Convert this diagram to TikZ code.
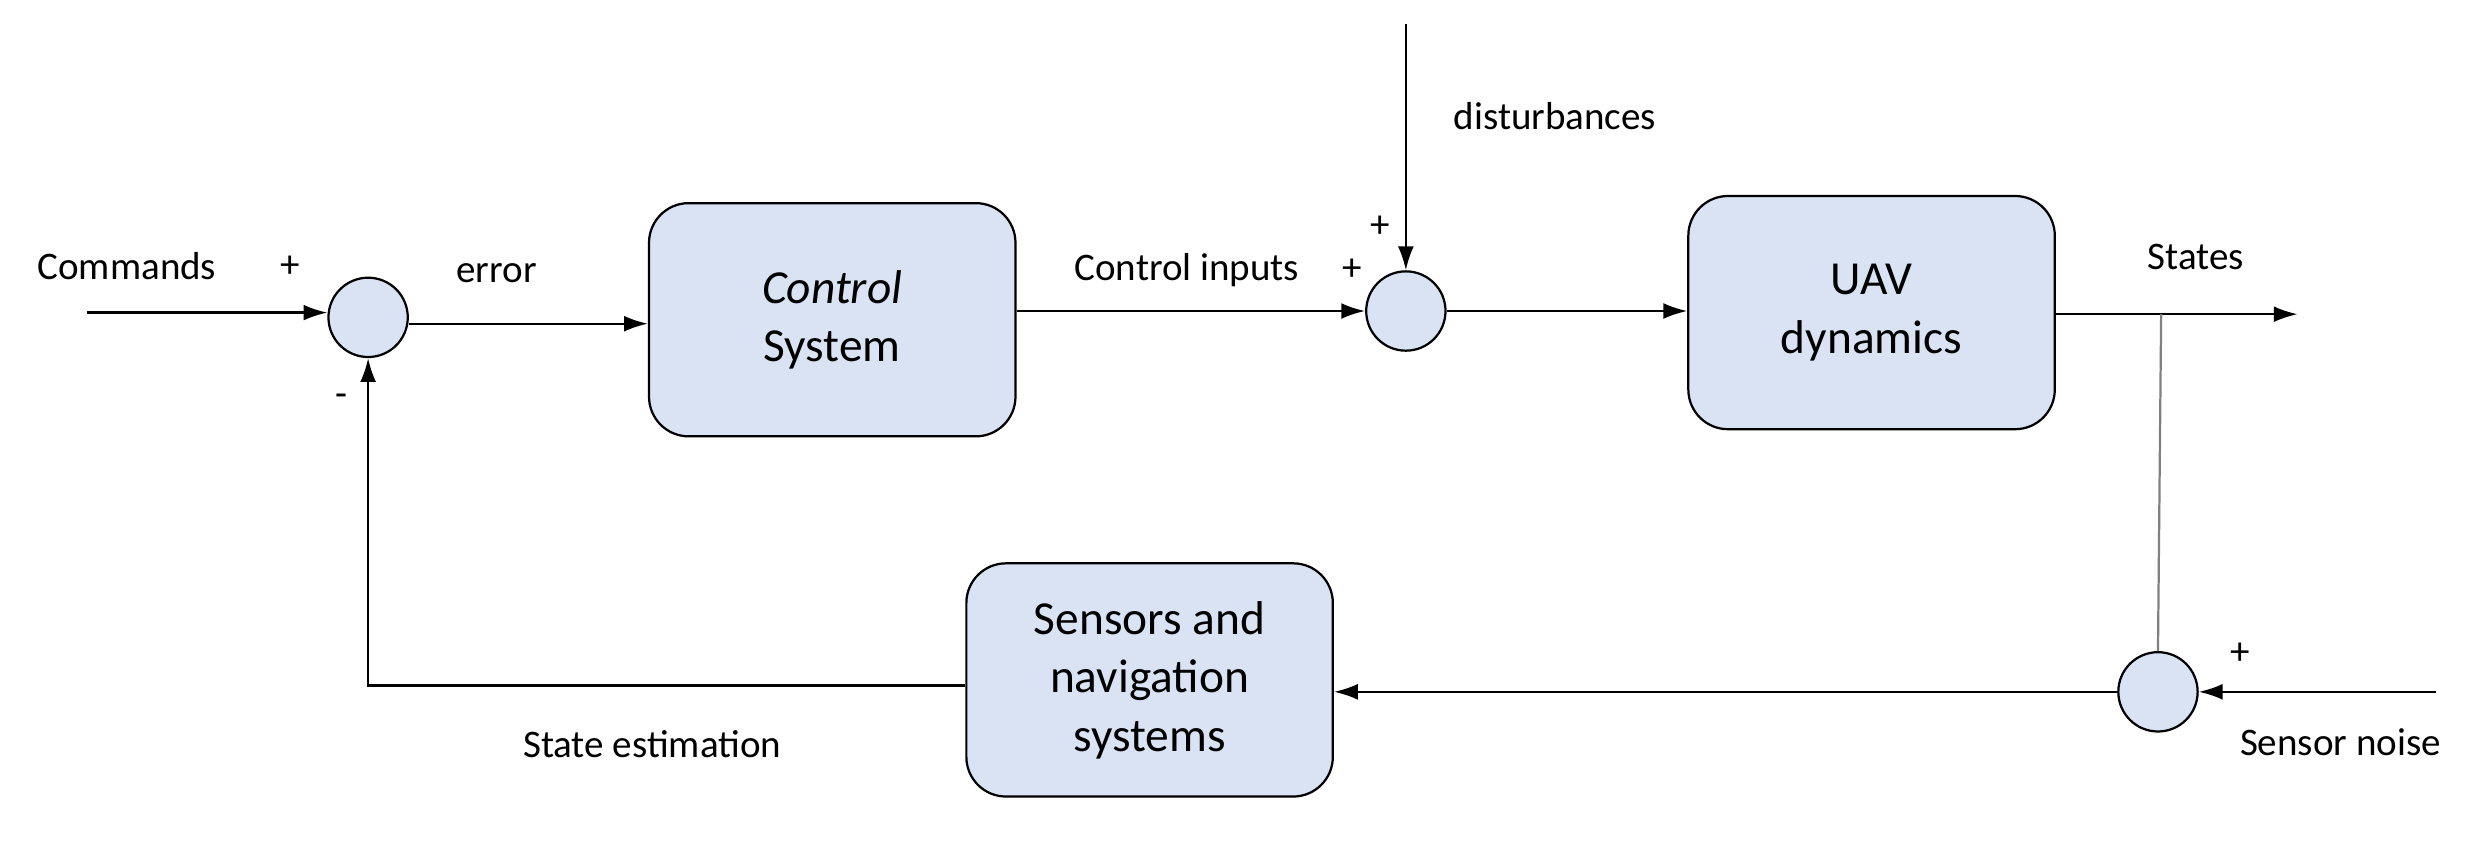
\documentclass[tikz,border=0pt]{standalone}
\usepackage{fontspec}
\setmainfont{Carlito}
\usetikzlibrary{arrows.meta}
\definecolor{BlockBlue}{RGB}{218,227,243}

\begin{document}
\begin{tikzpicture}[x=0.02cm, y=-0.02cm,
  block/.style={draw=black, fill=BlockBlue, rounded corners=0.5cm, line width=0.8pt,
    minimum width=4.62cm, minimum height=2.94cm, align=center, font=\fontsize{17}{21}\selectfont},
  sum/.style={draw=black, fill=BlockBlue, circle, minimum size=1cm, inner sep=0pt, line width=0.8pt},
  lbl/.style={font=\fontsize{14}{17}\selectfont, inner sep=0pt},
  sig/.style={-{Latex[length=3mm,width=2mm]}, line width=0.8pt}]
\useasboundingbox (0,0) rectangle (1568,532); % frame

% blocks
\node[block] (ctrl) at (524.5,201.5) {\textit{Control}\\System};
\node[block] (uav) at (1179.5,197) {UAV\\dynamics};
\node[block] (sens) at (724.5,428.5) {Sensors and\\navigation\\systems};

% summing junctions
\node[sum] (s1) at (232,200) {};
\node[sum] (s2) at (886,196) {};
\node[sum] (s3) at (1360,436) {};

% free ends
\coordinate (cmd) at (55,197);
\coordinate (dist) at (886,15);
\coordinate (out) at (1448,198);
\coordinate (tap) at (1362,198);
\coordinate (noise) at (1535,436);
\coordinate (fbk) at (232,432);

% signals
\draw[sig] (cmd) -- (s1.west |- cmd);
\draw[sig] (s1.east |- 0,204) -- (ctrl.west |- 0,204);
\draw[sig] (ctrl.east |- s2) -- (s2.west);
\draw[sig] (dist) -- (s2.north);
\draw[sig] (s2.east) -- (uav.west |- s2);
\draw[sig] (uav.east |- out) -- (out);
\draw[gray, line width=0.8pt] (tap) -- (s3.north);
\draw[sig] (noise) -- (s3.east);
\draw[sig] (s3.west) -- (sens.east |- s3);
\draw[sig] (sens.west |- fbk) -- (fbk) -- (s1.south);

% labels
\node[lbl] (tcmd) at (80,168) {Commands};
\node[lbl] at (183,168) {+};
\node[lbl] at (313,172) {error};
\node[lbl] at (215,252) {-};
\node[lbl] at (748,170) {Control inputs};
\node[lbl] at (852,170) {+};
\node[lbl] at (870,143) {+};
\node[lbl] at (980,73) {disturbances};
\node[lbl] at (1384,162) {States};
\node[lbl] at (1412,412) {+};
\node[lbl] at (1475,468) {Sensor noise};
\node[lbl] at (411,469) {State estimation};
\end{tikzpicture}
\end{document}
